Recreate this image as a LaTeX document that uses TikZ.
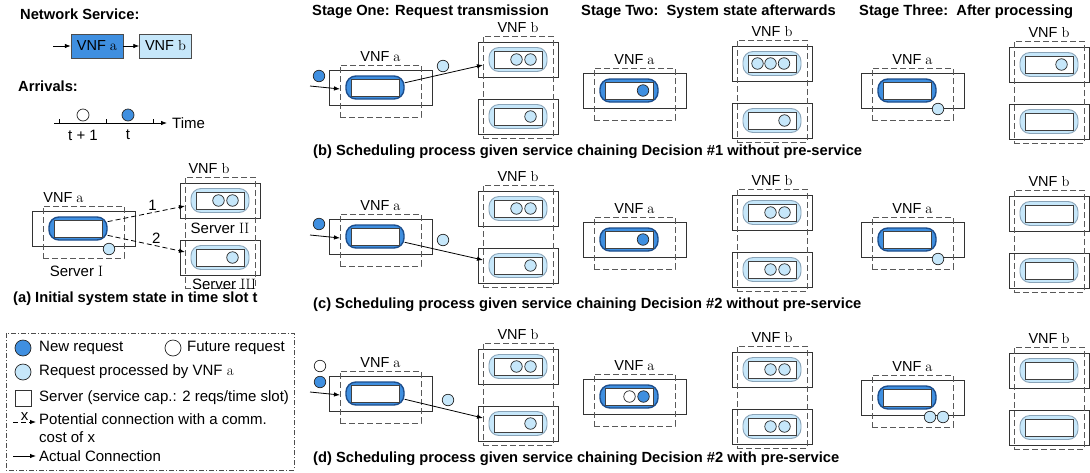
\documentclass[tikz,border=0pt]{standalone}
\usepackage{fontspec}
\setsansfont{Liberation Sans}
\usepackage{tikz}
\usetikzlibrary{positioning, arrows.meta, calc}
\usepackage{xcolor}
\definecolor{vnfblue}{HTML}{3F8FE0}
\definecolor{lightblue}{HTML}{C6E7FA}
\definecolor{pilledge}{HTML}{1D4E8C}
\definecolor{pillgray}{HTML}{8AA4B8}
\tikzset{
    txt/.style={
        font=\sffamily\fontsize{15}{18}\selectfont,
        inner sep=0pt
    },
    heading/.style={
        font=\sffamily\bfseries\fontsize{14.7}{18}\selectfont,
        inner sep=0pt,
        anchor=west
    },
    capt/.style={
        heading
    },
    vnflabel/.style={
        font=\sffamily\fontsize{14.5}{17}\selectfont,
        inner sep=1pt,
        yshift=2pt
    },
    nsbox/.style={
        draw=black!70,
        font=\sffamily\fontsize{14.5}{17}\selectfont,
        minimum width=52,
        minimum height=24,
        inner sep=0pt
    },
    server/.style={
        draw=black!80,
        fill=white,
        line width=0.8pt,
        inner sep=0pt
    },
    vnfbox/.style={
        draw=black!65,
        line width=0.8pt,
        dash pattern=on 6pt off 3pt,
        inner sep=0pt
    },
    pilla/.style={
        draw=pilledge,
        line width=1.4pt,
        fill=vnfblue,
        rounded corners=10pt,
        minimum width=58,
        minimum height=23,
        inner sep=0pt
    },
    pillb/.style={
        draw=pillgray,
        line width=0.9pt,
        fill=lightblue,
        rounded corners=10pt,
        minimum width=58,
        minimum height=24,
        inner sep=0pt
    },
    slot/.style={
        draw=black!75,
        line width=0.7pt,
        fill=white,
        minimum width=48,
        minimum height=17,
        inner sep=0pt
    },
    req/.style={
        circle,
        draw=black!85,
        line width=0.7pt,
        minimum size=11.5,
        inner sep=0pt
    },
    newreq/.style={req, fill=vnfblue},
    donereq/.style={req, fill=lightblue},
    futreq/.style={req, fill=white},
    conn/.style={
        -{Latex[length=6pt,width=4.5pt]},
        line width=0.8pt
    },
    potconn/.style={
        conn,
        dash pattern=on 5pt off 3pt
    },
    costlbl/.style={
        font=\sffamily\fontsize{15}{18}\selectfont,
        inner sep=1.5pt,
        above
    }
}

% server hosting VNF a: #1 label options, #2 name, #3 left, #4 top
\newcommand{\vnfaunit}[4][]{%
  \node[server, minimum width=103, minimum height=35] (#2-srv) at (#3+40.5,#4+22.5) {};
  \node[vnfbox, minimum width=81, minimum height=52,
        label={[vnflabel,#1]above:VNF {\rmfamily a}}] (#2) at (#3+40.5,#4+26) {};
  \node[pilla] (#2-pill) at (#3+35,#4+22.5) {};
  \node[slot] (#2-slot) at (#2-pill) {};
  \coordinate (#2-in) at (#3,#4+24);
}
% two servers hosting VNF b: #1 label options, #2 name, #3 left, #4 top, #5 height
\newcommand{\vnfbunit}[5][]{%
  \node[server, minimum width=80, minimum height=35] (#2-srv1) at (#3+35,#4+23.5) {};
  \node[server, minimum width=80, minimum height=35] (#2-srv2) at (#3+35,#4+80.5) {};
  \node[vnfbox, minimum width=70, minimum height=#5,
        label={[vnflabel,#1]above:VNF {\rmfamily b}}] (#2) at (#3+35,#4+#5/2) {};
  \node[pillb] (#2-pill1) at (#3+35,#4+23.5) {};
  \node[slot] (#2-slot1) at (#2-pill1) {};
  \node[pillb] (#2-pill2) at (#3+35,#4+80.5) {};
  \node[slot] (#2-slot2) at (#2-pill2) {};
  \coordinate (#2-in1) at (#3,#4+29);
  \coordinate (#2-in2) at (#3,#4+75);
}

\begin{document}
\begin{tikzpicture}[x=1pt,y=-1pt]
  \useasboundingbox (0,0) rectangle (1090,472);

  % network service
  \node[heading] (ns-title) at (20,14) {Network Service:};
  \coordinate (ns-start) at (53,46);
  \node[nsbox, fill=vnfblue] (ns-a) at (97,46) {VNF {\rmfamily a}};
  \node[nsbox, fill=lightblue] (ns-b) at (165.5,46) {VNF {\rmfamily b}};
  \draw[conn] (ns-start) -- (ns-a);
  \draw[conn] (ns-a) -- (ns-b);

  % arrivals
  \node[heading] (arr-title) at (18,86) {Arrivals:};
  \coordinate (ax-start) at (54,123);
  \coordinate (ax-end) at (167,123);
  \draw[conn] (ax-start) -- (ax-end);
  \foreach \x in {59,106,153}
    \draw[line width=0.8pt] (\x,123) -- (\x,119);
  \node[txt, right=5pt of ax-end] (ax-lbl) {Time};
  \node[futreq, minimum size=12] (arr-next) at (83,115) {};
  \node[newreq, minimum size=12] (arr-now) at (128,115) {};
  \node[txt] (t-next) at (83,135) {t + 1};
  \node[txt] (t-now) at (128,135) {t};

  % (a) initial state
  \vnfaunit[xshift=-20pt]{sa}{43}{206}
  \vnfbunit[xshift=-11pt]{sb}{185}{177}{111}
  \node[txt, below=7pt of sa, xshift=-7pt] (sa-name) {Server {\rmfamily I}};
  \node[txt, below=4pt of sb-srv1] (sb-name1) {Server {\rmfamily II}};
  \node[txt, below=3pt of sb-srv2, xshift=4pt] (sb-name2) {Server {\rmfamily III}};
  \node[donereq] (sb-r1) at ($(sb-pill1)+(-1.5,0)$) {};
  \node[donereq] (sb-r2) at ($(sb-pill1)+(12.5,0)$) {};
  \node[donereq] (sb-r3) at ($(sb-pill2)+(12.5,0)$) {};
  \node[donereq] (sa-out) at (109,249) {};
  \draw[potconn] (sa-pill.13) -- node[costlbl, pos=0.58] {1} (sb-in1);
  \draw[potconn] (sa-pill.-13) -- node[costlbl, pos=0.63] {2} (sb-in2);
  \node[capt] (cap-a) at (13,299) {(a) Initial system state in time slot t};

  % legend
  \draw[black!70, line width=0.8pt, dash pattern=on 5pt off 2pt on 1pt off 2pt]
    (6,333) rectangle (294,470);
  \node[newreq, minimum size=16] (lg-new) at (23,348) {};
  \node[txt, anchor=west] (lg-new-t) at (39,348) {New request};
  \node[futreq, minimum size=16] (lg-fut) at (173,348) {};
  \node[txt, anchor=west] (lg-fut-t) at (187,348) {Future request};
  \node[donereq, minimum size=16] (lg-done) at (23,372) {};
  \node[txt, anchor=west] (lg-done-t) at (39,372) {Request processed by VNF {\rmfamily a}};
  \node[draw=black!80, line width=0.8pt, minimum size=16, inner sep=0pt] (lg-srv) at (23,398) {};
  \node[txt, anchor=west] (lg-srv-t) at (39,398) {Server (service cap.: 2 reqs/time slot)};
  \coordinate (lg-pot-s) at (13,422);
  \coordinate (lg-pot-e) at (36,422);
  \draw[potconn] (lg-pot-s) -- node[costlbl] {x} (lg-pot-e);
  \node[txt, anchor=west] (lg-pot-t) at (39,419) {Potential connection with a comm.};
  \node[txt, anchor=west] (lg-pot-t2) at (39,437) {cost of x};
  \coordinate (lg-act-s) at (13,456);
  \coordinate (lg-act-e) at (36,456);
  \draw[conn] (lg-act-s) -- (lg-act-e);
  \node[txt, anchor=west] (lg-act-t) at (39,456) {Actual Connection};

  % stage titles
  \node[heading] (st-one) at (312,12) {Stage One: Request transmission};
  \node[heading] (st-two) at (581,12) {Stage Two:\ \ System state afterwards};
  \node[heading] (st-three) at (859,12) {Stage Three:\ \ After processing};

  % (b) decision 1, no pre-service
  \vnfaunit{b1a}{340}{65}
  \vnfbunit{b1b}{483}{36}{102}
  \node[newreq] (b1-new) at (319,76) {};
  \coordinate (b1-src) at (310,86);
  \draw[conn] (b1-src) -- (b1a-in);
  \node[donereq] (b1-out) at (443,66) {};
  \node[donereq] (b1-r1) at ($(b1b-pill1)+(-1.5,0)$) {};
  \node[donereq] (b1-r2) at ($(b1b-pill1)+(12.5,0)$) {};
  \node[donereq] (b1-r3) at ($(b1b-pill2)+(12.5,0)$) {};
  \draw[conn] (b1a-pill.9) -- (b1b-in1);

  \vnfaunit{b2a}{594}{68}
  \vnfbunit{b2b}{737}{40}{102}
  \node[newreq] (b2-new) at ($(b2a-pill)+(14,0)$) {};
  \node[donereq] (b2-r1) at ($(b2b-pill1)+(-14.5,0)$) {};
  \node[donereq] (b2-r2) at ($(b2b-pill1)+(-1.5,0)$) {};
  \node[donereq] (b2-r3) at ($(b2b-pill1)+(12,0)$) {};
  \node[donereq] (b2-r4) at ($(b2b-pill2)+(12.5,0)$) {};

  \vnfaunit{b3a}{872}{68}
  \vnfbunit{b3b}{1014}{41}{102}
  \node[donereq] (b3-out) at (938,109) {};
  \node[donereq] (b3-r1) at ($(b3b-pill1)+(12.5,0)$) {};
  \node[capt] (cap-b) at (313,152) {(b) Scheduling process given service chaining Decision \#1 without pre-service};

  % (c) decision 2, no pre-service
  \vnfaunit{c1a}{340}{214}
  \vnfbunit{c1b}{483}{185}{102}
  \node[newreq] (c1-new) at (319,224) {};
  \coordinate (c1-src) at (310,235);
  \draw[conn] (c1-src) -- (c1a-in);
  \node[donereq] (c1-out) at (443,240) {};
  \node[donereq] (c1-r1) at ($(c1b-pill1)+(-1.5,0)$) {};
  \node[donereq] (c1-r2) at ($(c1b-pill1)+(12.5,0)$) {};
  \node[donereq] (c1-r3) at ($(c1b-pill2)+(12.5,0)$) {};
  \draw[conn] (c1a-pill.-11) -- (c1b-in2);

  \vnfaunit{c2a}{594}{217}
  \vnfbunit{c2b}{737}{189}{102}
  \node[newreq] (c2-new) at ($(c2a-pill)+(14,0)$) {};
  \node[donereq] (c2-r1) at ($(c2b-pill1)+(-1.5,0)$) {};
  \node[donereq] (c2-r2) at ($(c2b-pill1)+(12.5,0)$) {};
  \node[donereq] (c2-r3) at ($(c2b-pill2)+(-1.5,0)$) {};
  \node[donereq] (c2-r4) at ($(c2b-pill2)+(12.5,0)$) {};

  \vnfaunit{c3a}{872}{217}
  \vnfbunit{c3b}{1014}{190}{102}
  \node[donereq] (c3-out) at (938,259) {};
  \node[capt] (cap-c) at (313,305) {(c) Scheduling process given service chaining Decision \#2 without pre-service};

  % (d) decision 2 with pre-service
  \vnfaunit{d1a}{340}{371}
  \vnfbunit{d1b}{483}{343}{102}
  \node[futreq] (d1-fut) at (320,366) {};
  \node[newreq] (d1-new) at (320,382) {};
  \coordinate (d1-src) at (310,392);
  \draw[conn] (d1-src) -- (d1a-in);
  \node[donereq] (d1-out) at (448,400) {};
  \node[donereq] (d1-r1) at ($(d1b-pill1)+(-1.5,0)$) {};
  \node[donereq] (d1-r2) at ($(d1b-pill1)+(12.5,0)$) {};
  \node[donereq] (d1-r3) at ($(d1b-pill2)+(12.5,0)$) {};
  \draw[conn] (d1a-pill.-11) -- (d1b-in2);

  \vnfaunit{d2a}{594}{374}
  \vnfbunit{d2b}{737}{346}{102}
  \node[futreq] (d2-fut) at ($(d2a-pill)+(0.5,0)$) {};
  \node[newreq] (d2-new) at ($(d2a-pill)+(14.5,0)$) {};
  \node[donereq] (d2-r1) at ($(d2b-pill1)+(-1.5,0)$) {};
  \node[donereq] (d2-r2) at ($(d2b-pill1)+(12.5,0)$) {};
  \node[donereq] (d2-r3) at ($(d2b-pill2)+(-1.5,0)$) {};
  \node[donereq] (d2-r4) at ($(d2b-pill2)+(12.5,0)$) {};

  \vnfaunit{d3a}{872}{375}
  \vnfbunit{d3b}{1014}{347}{102}
  \node[donereq] (d3-out1) at (930,417) {};
  \node[donereq] (d3-out2) at (943,417) {};
  \node[capt] (cap-d) at (313,459) {(d) Scheduling process given service chaining Decision \#2 with pre-service};
\end{tikzpicture}
\end{document}
